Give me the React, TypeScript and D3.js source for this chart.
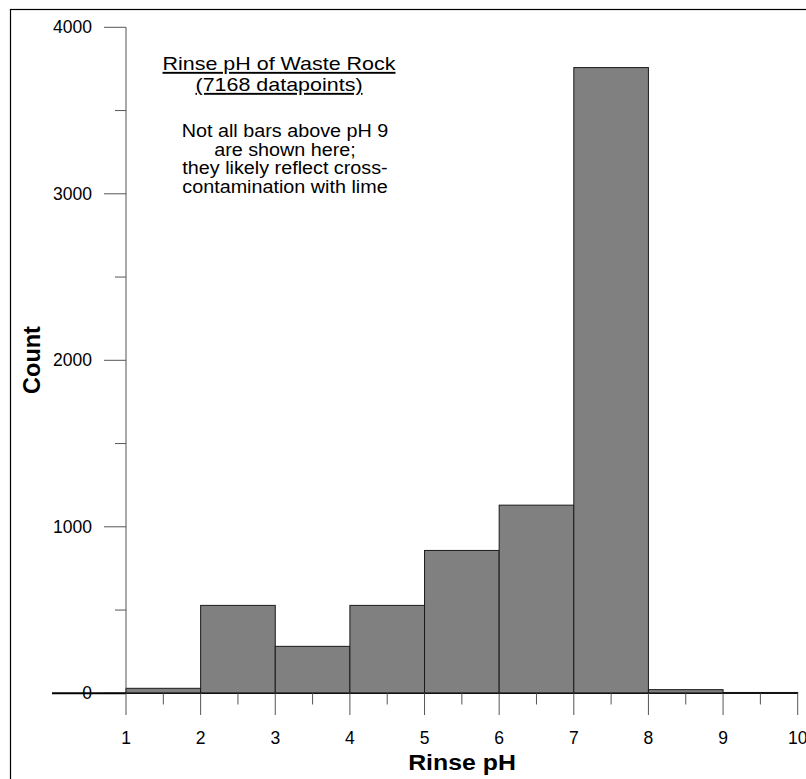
import React from "react";
import * as d3 from "d3";

// histogram of rinse pH, one bin per pH unit
const binStarts = [1, 2, 3, 4, 5, 6, 7, 8, 9];
const counts = [30, 528, 282, 528, 858, 1130, 3758, 22, 5];
const xTicks = [1, 2, 3, 4, 5, 6, 7, 8, 9, 10];
const yTicks = [0, 1000, 2000, 3000, 4000];
const titleLines = ["Rinse pH of Waste Rock", "(7168 datapoints)"];
const noteLines = [
  "Not all bars above pH 9",
  "are shown here;",
  "they likely reflect cross-",
  "contamination with lime",
];

const W = 806;
const H = 779;
const font = "Arial, 'Liberation Sans', sans-serif";
const sx = 1.13; // the original text is a bit wide

export default function App() {
  const x = d3.scaleLinear().domain([1, 10]).range([126, 797.7]);
  const y = d3.scaleLinear().domain([0, 4000]).range([693.3, 27.3]);
  const minorX = d3.range(1.5, 10, 1);
  const minorY = d3.range(500, 4000, 1000);
  const y0 = y(0);

  return (
    <svg
      width={W}
      height={H}
      style={{ position: "absolute", left: 0, top: 0, background: "#fff" }}
      fontFamily={font}
    >
      <rect x={10.5} y={9.5} width={820} height={820} fill="none" stroke="#000" strokeWidth={1.2} />

      {/* bars */}
      {binStarts.map((b, i) => (
        <rect
          key={b}
          x={x(b)}
          y={y(counts[i])}
          width={x(b + 1) - x(b)}
          height={y0 - y(counts[i])}
          fill="#808080"
          stroke="#1a1a1a"
          strokeWidth={1}
        />
      ))}

      {/* y axis */}
      <line x1={x(1)} x2={x(1)} y1={y(4000)} y2={y0} stroke="#555" strokeWidth={1} />
      {yTicks.map((t) => (
        <g key={t}>
          <line x1={104} x2={x(1)} y1={y(t)} y2={y(t)} stroke="#555" />
          <text x={92} y={y(t)} dy="0.35em" textAnchor="end" fontSize={17.5}>
            {t}
          </text>
        </g>
      ))}
      {minorY.map((t) => (
        <line key={t} x1={115} x2={x(1)} y1={y(t)} y2={y(t)} stroke="#555" />
      ))}
      {/* zero line running left of the axis */}
      <line x1={52} x2={x(1)} y1={y0} y2={y0} stroke="#000" strokeWidth={2} />

      {/* x axis */}
      <line x1={x(1)} x2={x(10)} y1={y0} y2={y0} stroke="#111" strokeWidth={1.5} />
      {xTicks.map((t) => (
        <g key={t}>
          <line x1={x(t)} x2={x(t)} y1={y0} y2={715} stroke="#555" />
          <text x={x(t)} y={744} textAnchor="middle" fontSize={17.5}>
            {t}
          </text>
        </g>
      ))}
      {minorX.map((t) => (
        <line key={t} x1={x(t)} x2={x(t)} y1={y0} y2={704.5} stroke="#555" />
      ))}

      {/* axis titles */}
      <text
        transform={`translate(462,770) scale(${sx},1)`}
        textAnchor="middle"
        fontSize={22}
        fontWeight="bold"
      >
        Rinse pH
      </text>
      <text
        transform="translate(40,360) rotate(-90)"
        textAnchor="middle"
        fontSize={23.5}
        fontWeight="bold"
      >
        Count
      </text>

      {/* title and note */}
      {titleLines.map((s, i) => (
        <text
          key={s}
          transform={`translate(279,${70 + i * 21}) scale(${sx},1)`}
          textAnchor="middle"
          fontSize={19}
          style={{ textDecoration: "underline" }}
        >
          {s}
        </text>
      ))}
      {noteLines.map((s, i) => (
        <text
          key={s}
          transform={`translate(285,${137 + i * 18.7}) scale(${sx},1)`}
          textAnchor="middle"
          fontSize={17.5}
        >
          {s}
        </text>
      ))}
    </svg>
  );
}
